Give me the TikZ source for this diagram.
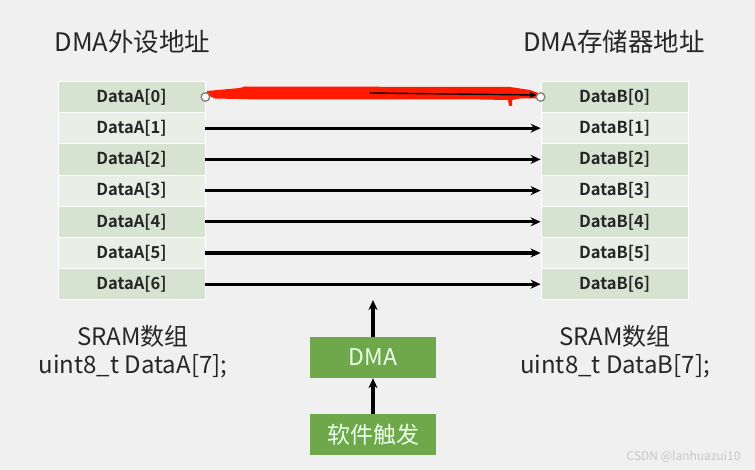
\documentclass[tikz,border=0pt]{standalone}
\usepackage{fontspec}
\setmainfont{Noto Sans CJK SC}[BoldFont={Noto Sans CJK SC Bold}]
\usetikzlibrary{arrows.meta,calc}
\definecolor{bgc}{HTML}{F0F0F0}
\definecolor{rowdark}{HTML}{D5E3D0}
\definecolor{rowlight}{HTML}{E9EFE7}
\definecolor{boxgreen}{HTML}{6EA84A}
\definecolor{txtc}{HTML}{262626}
\definecolor{scrib}{HTML}{FF1A00}
\tikzset{
  cell/.style={draw=white, line width=0.8pt, minimum width=147pt, minimum height=31.2pt, inner sep=0pt,
    font=\fontsize{16.5}{18}\selectfont\bfseries, text=txtc},
  even/.style={cell, fill=rowdark},
  odd/.style={cell, fill=rowlight},
  flow/.style={line width=3.3pt, -{Stealth[length=10pt,width=9pt]}},
  gbox/.style={fill=boxgreen, minimum width=126pt, minimum height=41pt, inner sep=0pt,
    text=white!92!green, font=\fontsize{23}{26}\selectfont},
  label/.style={text=txtc, font=\fontsize{24}{29}\selectfont, align=center, inner sep=0pt},
  title/.style={text=txtc, font=\fontsize{25.5}{30}\selectfont, inner sep=0pt},
  endpt/.style={circle, draw=gray, line width=1.3pt, fill=white, minimum size=8.5pt, inner sep=0pt},
}
\begin{document}
\begin{tikzpicture}[x=1pt,y=-1pt]
\fill[bgc] (0,0) rectangle (755,470);
\useasboundingbox (0,0) rectangle (755,470);
\node[title] (ta) at (132.5,42) {DMA外设地址};
\node[title] (tb) at (614,42) {DMA存储器地址};
\foreach \i in {0,...,6} {
  \pgfmathsetmacro{\yy}{97+31.2*\i}
  \ifodd\i
    \node[odd] (a\i) at (131.5,\yy) {DataA[\i]};
    \node[odd] (b\i) at (614.5,\yy) {DataB[\i]};
  \else
    \node[even] (a\i) at (131.5,\yy) {DataA[\i]};
    \node[even] (b\i) at (614.5,\yy) {DataB[\i]};
  \fi
}
\foreach \i in {1,...,6} { \draw[flow] (a\i.east) -- (b\i.west); }
% scribbled row 0
\fill[scrib] (207,91) -- (240,88) -- (245,86.5) -- (510,87) -- (530,90) -- (541,94) -- (538,98.5)
  -- (520,98.5) -- (512,100) -- (512,106) -- (509,106) -- (508,100) -- (480,99.5) -- (260,99.5) -- (215,98.5) -- (207,95) -- cycle;
\coordinate (mid0) at ($(a0.east)!0.49!(b0.west)+(0,-4)$);
\draw[line width=1.4pt, -{Stealth[length=7pt,width=6pt]}] (mid0) -- ($(b0.west)+(-4,-2)$);
\node[endpt] (pa) at (a0.east) {};
\node[endpt] (pb) at (b0.west) {};
% labels
\node[label] (la) at (133,352) {SRAM数组\\[-1pt]uint8\_t DataA[7];};
\node[label] (lb) at (615,352) {SRAM数组\\[-1pt]uint8\_t DataB[7];};
% DMA
\node[gbox] (dma) at (373,357.5) {DMA};
\node[gbox] (trig) at (373,434.5) {软件触发};
\coordinate (tbot) at (373,300);
\draw[flow] (trig.north) -- (dma.south);
\draw[flow] (dma.north) -- (tbot);
\node[text=black!22, font=\fontsize{12}{14}\selectfont, anchor=east] (wm) at (744,457) {CSDN @lanhuazui10};
\end{tikzpicture}
\end{document}
